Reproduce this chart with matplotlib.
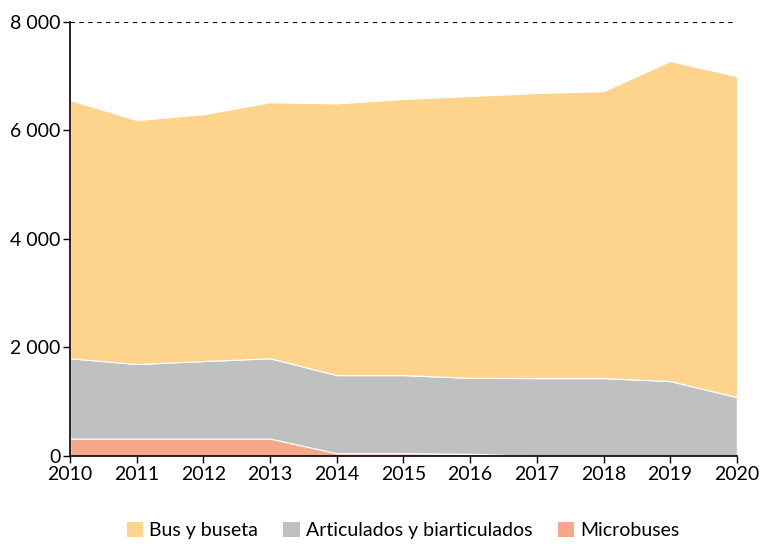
import numpy as np
import matplotlib.pyplot as plt
from matplotlib.ticker import FuncFormatter
from matplotlib.patches import Patch

plt.rcParams['font.family'] = ['Lato', 'DejaVu Sans']

years = [2010, 2011, 2012, 2013, 2014, 2015, 2016, 2017, 2018, 2019, 2020]
microbuses = [320, 320, 320, 320, 50, 50, 40, 0, 0, 0, 0]
articulados = [1480, 1375, 1430, 1480, 1440, 1440, 1400, 1435, 1435, 1380, 1085]
bus_buseta = [4760, 4495, 4550, 4720, 5010, 5090, 5195, 5255, 5290, 5900, 5915]

labels = ['Bus y buseta', 'Articulados y biarticulados', 'Microbuses']
colors = ['#FED38C', '#BFC1C1', '#F5A88A']

fig = plt.figure(figsize=(7.62, 5.5), dpi=100)
ax = fig.add_axes([0.092, 0.171, 0.875, 0.789])

ax.stackplot(years, microbuses, articulados, bus_buseta,
             colors=[colors[2], colors[1], colors[0]],
             edgecolor='white', linewidth=0.8)

ax.axhline(8000, color='black', linestyle=(0, (4, 4)), linewidth=0.8)

ax.set_xlim(2010, 2020)
ax.set_ylim(0, 8000)
ax.set_xticks(years)
ax.set_yticks([0, 2000, 4000, 6000, 8000])
ax.yaxis.set_major_formatter(FuncFormatter(lambda v, p: f'{int(v):,}'.replace(',', ' ') if v else '0'))
ax.tick_params(axis='both', labelsize=14, direction='out', length=5, width=1, pad=2)
for s in ['top', 'right']:
    ax.spines[s].set_visible(False)
for s in ['left', 'bottom']:
    ax.spines[s].set_linewidth(1.2)

handles = [Patch(facecolor=c, edgecolor='none') for c in colors]
fig.legend(handles, labels, loc='lower center', ncol=3, frameon=False,
           fontsize=14, bbox_to_anchor=(0.529, -0.012), handlelength=0.85,
           handleheight=0.85, columnspacing=1.3, handletextpad=0.3)

fig.savefig('out.png', dpi=100)
